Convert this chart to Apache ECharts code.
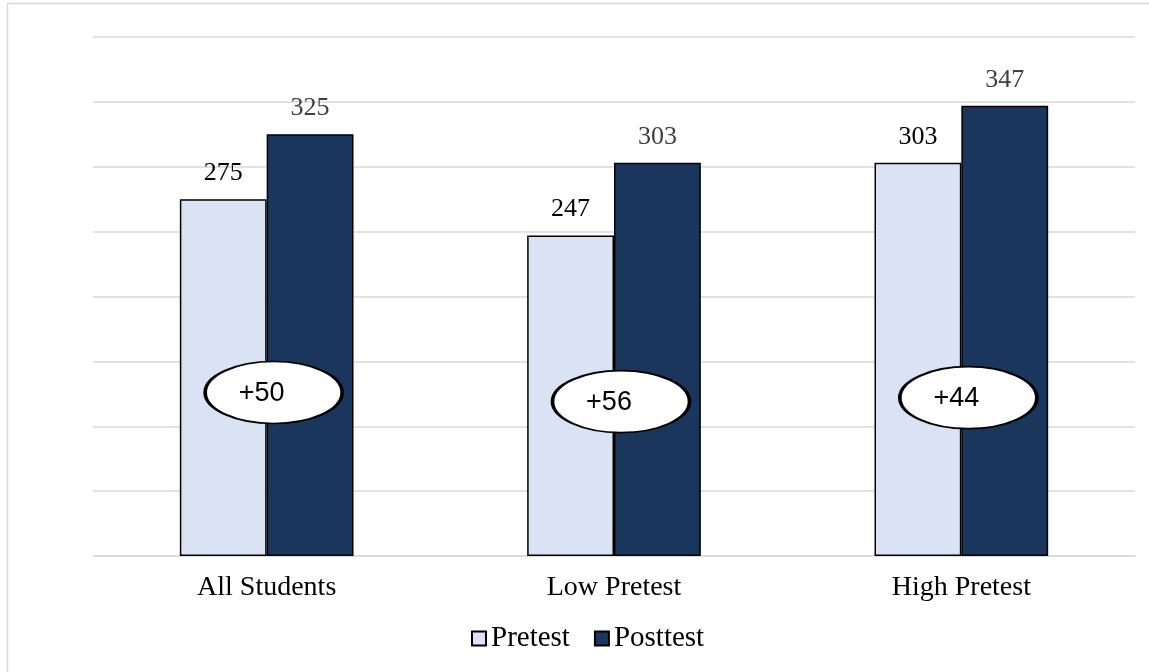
<!DOCTYPE html>
<html>
<head>
<meta charset="utf-8">
<script src="https://cdn.jsdelivr.net/npm/echarts@6/dist/echarts.min.js"></script>
<style>
html,body{margin:0;padding:0;background:#fff;}
#chart{width:1149px;height:672px;}
</style>
</head>
<body>
<div id="chart"></div>
<script>
const categories = ['All Students', 'Low Pretest', 'High Pretest'];
const pretest = [275, 247, 303];
const posttest = [325, 303, 347];
const gainLabels = ['+50', '+56', '+44'];
const gainBadgeY = [126, 119, 122];

const chart = echarts.init(document.getElementById('chart'), null, {renderer: 'canvas'});
const ellipsePath = 'path://M0,50 A100,50 0 1,1 200,50 A100,50 0 1,1 0,50 Z';

chart.setOption({
  animation: false,
  backgroundColor: '#fff',
  graphic: [{
    type: 'rect', left: 5, top: 1, silent: true,
    shape: {width: 1200, height: 800},
    style: {fill: 'none', stroke: '#d9d9d9', lineWidth: 1.5}
  }],
  grid: {left: 93, right: 14, top: 37, bottom: 116},
  legend: {
    data: ['Pretest', 'Posttest'],
    left: 466, top: 619,
    icon: 'rect',
    itemWidth: 14, itemHeight: 14, itemGap: 24,
    textStyle: {fontFamily: 'Liberation Serif', fontSize: 29, color: '#000'}
  },
  xAxis: {
    type: 'category',
    data: categories,
    axisLine: {show: true, lineStyle: {color: '#d9d9d9', width: 1.5}},
    axisTick: {show: false},
    axisLabel: {fontFamily: 'Liberation Serif', fontSize: 28, color: '#000', margin: 18}
  },
  yAxis: {
    type: 'value', min: 0, max: 400, interval: 50,
    axisLabel: {show: false},
    axisLine: {show: false},
    axisTick: {show: false},
    splitLine: {lineStyle: {color: '#d9d9d9', width: 1.5}}
  },
  series: [
    {
      name: 'Pretest', type: 'bar', data: pretest,
      barWidth: '25%', barGap: '0%',
      itemStyle: {color: '#dae3f3', borderColor: '#000', borderWidth: 1.5},
      label: {show: true, position: 'top', distance: 13, fontFamily: 'Liberation Serif', fontSize: 26, color: '#000'}
    },
    {
      name: 'Posttest', type: 'bar', data: posttest,
      barWidth: '25%', barGap: '0%',
      itemStyle: {color: '#1a365d', borderColor: '#000', borderWidth: 1.5},
      label: {show: true, position: 'top', distance: 13, fontFamily: 'Liberation Serif', fontSize: 26, color: '#404040'}
    },
    {
      name: 'Gain', type: 'scatter', data: gainBadgeY,
      symbol: ellipsePath, symbolSize: [137, 62], symbolOffset: [7, 0],
      itemStyle: {color: '#fff', borderColor: '#000', borderWidth: 2.5, opacity: 1},
      z: 5,
      label: {
        show: true, position: 'inside',
        formatter: p => gainLabels[p.dataIndex],
        fontFamily: 'Liberation Sans', fontSize: 27, color: '#000',
        offset: [-12, 1]
      }
    }
  ]
});
</script>
</body>
</html>
